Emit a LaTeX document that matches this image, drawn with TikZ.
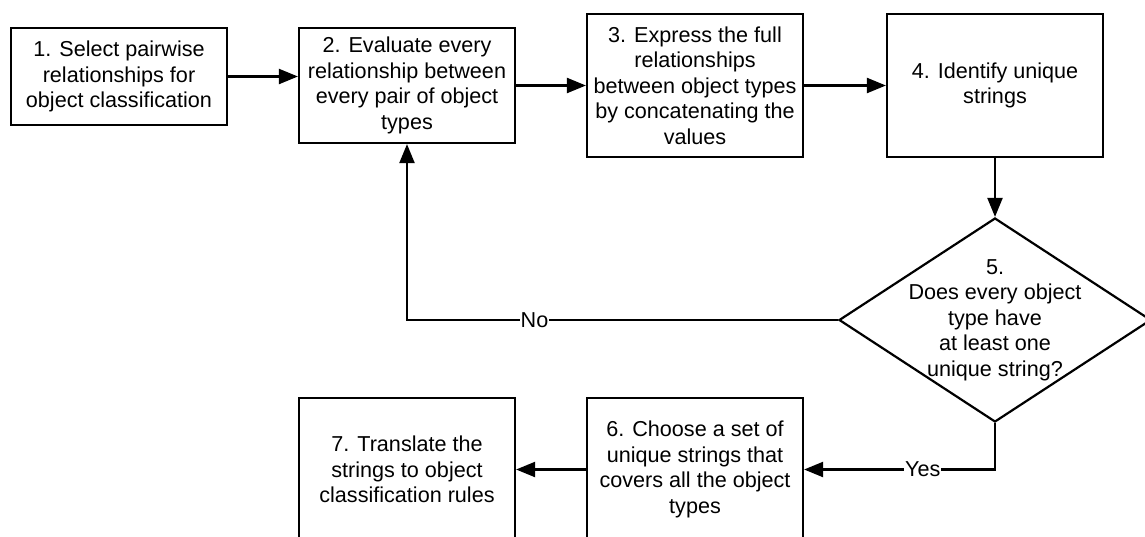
\documentclass[tikz,border=0pt]{standalone}
\usepackage{fontspec}
\setmainfont{Liberation Sans}
\usetikzlibrary{arrows.meta,positioning,shapes.geometric}

\begin{document}
\begin{tikzpicture}[x=1pt,y=-1pt,node distance=288pt,on grid,
>={Triangle[length=19pt,width=15pt]},line width=2.2pt,
every node/.style={font=\fontsize{21.6}{25.5}\selectfont},
stepbox/.style={draw,rectangle,align=center,minimum width=216pt,inner sep=3pt},
tall/.style={minimum height=143pt},
decision/.style={draw,diamond,minimum width=312pt,minimum height=204pt,inner sep=0pt},
answer/.style={fill=white,inner sep=1pt}]

\useasboundingbox (0,0) rectangle (1145,536);

\node[stepbox,minimum height=115pt](evaluate) at (407,85.5) {2. Evaluate every\\relationship between\\every pair of object\\types};
\node[stepbox,minimum height=97pt](select) [left=of evaluate,yshift=9pt] {1. Select pairwise\\relationships for\\object classification};
\node[stepbox,tall](express) [right=of evaluate] {3. Express the full\\relationships\\between object types\\by concatenating the\\values};
\node[stepbox,tall](identify) [right=300pt of express] {4. Identify unique\\strings};
\node[decision](check) [below=234.5pt of identify] {};
\node[align=center](question) at (check) {5.\\Does every object\\type have\\at least one\\unique string?};
\node[stepbox,tall](choose) [below=384pt of express] {6. Choose a set of\\unique strings that\\covers all the object\\types};
\node[stepbox,tall](translate) [below=384pt of evaluate] {7. Translate the\\strings to object\\classification rules};

\path[->]
     (select.east) edge (select.east -| evaluate.west)
     (evaluate) edge (express)
     (express) edge (identify)
     (identify) edge (check)
     (choose) edge (translate);

\draw[->] (check.west) -| node[answer,pos=0.352] {No} (evaluate.south);
\draw[->] (check.south) |- node[answer,pos=0.689] {Yes} (choose.east);

\end{tikzpicture}
\end{document}
